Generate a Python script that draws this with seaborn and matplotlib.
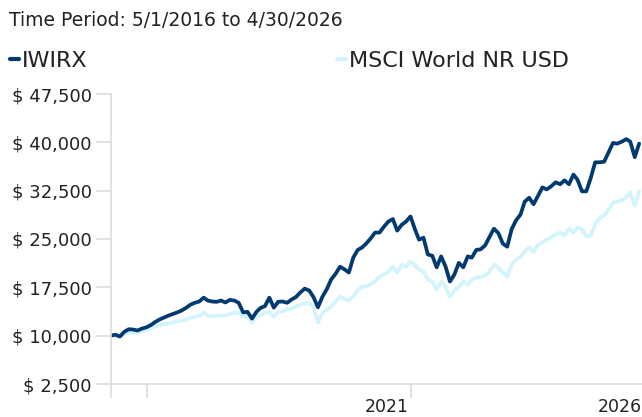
import matplotlib
matplotlib.use("Agg")
import matplotlib.pyplot as plt
import matplotlib.ticker as mticker
import seaborn as sns
import pandas as pd

# month-end values of a $10,000 investment
start_date = "2016-04-30"
iwirx = [
    10000, 10150, 9850, 10600, 11000, 10950, 10800, 11100, 11300, 11650,
    12100, 12500, 12800, 13100, 13350, 13600, 13900, 14300, 14800, 15100,
    15300, 15900, 15450, 15300, 15250, 15450, 15150, 15550, 15450, 15100,
    13600, 13700, 12650, 13700, 14300, 14600, 15900, 14350, 15250, 15300,
    15100, 15600, 16000, 16700, 17300, 17000, 16000, 14400, 16000, 17200,
    18700, 19600, 20700, 20300, 19800, 22100, 23300, 23700, 24300, 25100,
    26000, 26000, 26900, 27700, 28100, 26300, 27200, 27700, 28500, 26500,
    24900, 25200, 22600, 22400, 20600, 22300, 20700, 18400, 19500, 21300,
    20600, 22300, 22100, 23300, 23400, 24000, 25300, 26600, 25900, 24300,
    23800, 26500, 27900, 28800, 30800, 31400, 30400, 31700, 33000, 32700,
    33200, 33800, 33500, 34100, 33500, 35000, 34200, 32400, 32400, 34500,
    36900, 36900, 37000, 38400, 39900, 39800, 40100, 40500, 40100, 37700,
    39800,
]
msci = [
    10000, 10100, 9950, 10300, 10500, 10450, 10450, 10700, 10900, 11200,
    11400, 11600, 11800, 11850, 12050, 12200, 12300, 12500, 12750, 12950,
    13050, 13550, 13100, 13050, 13100, 13100, 13100, 13350, 13550, 13550,
    12950, 12950, 12000, 12950, 13100, 13550, 13650, 12950, 13700, 13800,
    14050, 14200, 14500, 14800, 15000, 15100, 14500, 12000, 13550, 14000,
    14500, 15300, 16050, 15700, 15450, 16050, 17000, 17600, 17600, 18000,
    18400, 19150, 19500, 19900, 20700, 19800, 21000, 20700, 21500, 20900,
    20250, 19950, 18700, 18400, 17150, 18400, 17600, 16050, 17000, 17600,
    18400, 17900, 18700, 19000, 19100, 19300, 19950, 21000, 20550, 19800,
    19150, 21000, 21800, 22250, 23000, 23700, 23000, 24100, 24500, 24900,
    25300, 25700, 26000, 25550, 26600, 26000, 26800, 26450, 25400, 25550,
    27250, 28300, 28650, 29550, 30650, 30800, 31000, 31500, 32200, 30150,
    32400,
]
series_names = ["IWIRX", "MSCI World NR USD"]
colors = ["#003a70", "#d3f4fd"]
y_ticks = [2500, 10000, 17500, 25000, 32500, 40000, 47500]
year_labels = ["2021", "2026"]

dates = pd.date_range(start_date, periods=len(iwirx), freq="ME")
df = pd.concat([
    pd.DataFrame({"date": dates, "value": iwirx, "fund": series_names[0]}),
    pd.DataFrame({"date": dates, "value": msci, "fund": series_names[1]}),
])

sns.set_theme(style="white")
plt.rcParams["font.family"] = ["DejaVu Sans"]
text_color = "#222222"
grey = "#dcdcdc"
W, H = 642, 417

fig = plt.figure(figsize=(W / 100, H / 100), dpi=100)
ax = fig.add_axes([111 / W, 33 / H, 531 / W, 290 / H])

# draw the light benchmark first so the fund line sits on top
sns.lineplot(data=df, x="date", y="value", hue="fund",
             hue_order=series_names[::-1], palette=colors[::-1],
             linewidth=2.7, ax=ax, legend=False)

ax.set_ylim(2500, 47500)
ax.set_xlim(pd.Timestamp(start_date), pd.Timestamp("2026-05-20"))
ax.set_yticks(y_ticks)
ax.yaxis.set_major_formatter(mticker.FuncFormatter(lambda v, p: f"$ {v:,.0f}"))
ax.set_xlabel("")
ax.set_ylabel("")

# tick marks at the year boundaries, year labels ending just before them
ax.set_xticks([pd.Timestamp(start_date), pd.Timestamp("2017-01-01"),
               pd.Timestamp("2022-01-01")], minor=True)
ax.set_xticks([pd.Timestamp("2021-12-20"), pd.Timestamp("2026-05-20")])
ax.set_xticklabels(year_labels, ha="right")
ax.tick_params(axis="x", which="major", length=0, pad=10, labelsize=12.5,
               labelcolor=text_color)
ax.tick_params(axis="x", which="minor", length=10, width=1.2, color=grey,
               direction="out", bottom=True)
ax.tick_params(axis="y", length=11, width=1.2, color=grey, pad=3,
               labelsize=13, labelcolor=text_color, left=True)

for side in ["top", "right"]:
    ax.spines[side].set_visible(False)
for side in ["left", "bottom"]:
    ax.spines[side].set_color(grey)
    ax.spines[side].set_linewidth(1.2)

fig.text(9 / W, 1 - 20.5 / H, "Time Period: 5/1/2016 to 4/30/2026",
         fontsize=13.5, color=text_color, va="center", ha="left")

# one legend per entry so each sits where the reference puts it
for name, col, x0 in zip(series_names, colors, [10, 337]):
    handle = plt.Line2D([], [], color=col, linewidth=3)
    leg = fig.legend([handle], [name], loc="center left",
                     bbox_to_anchor=(x0 / W, 1 - 61 / H), frameon=False,
                     fontsize=16, handlelength=0.42, handletextpad=0.12,
                     borderaxespad=0, borderpad=0, labelcolor=text_color)

fig.savefig("out.png", dpi=100)
